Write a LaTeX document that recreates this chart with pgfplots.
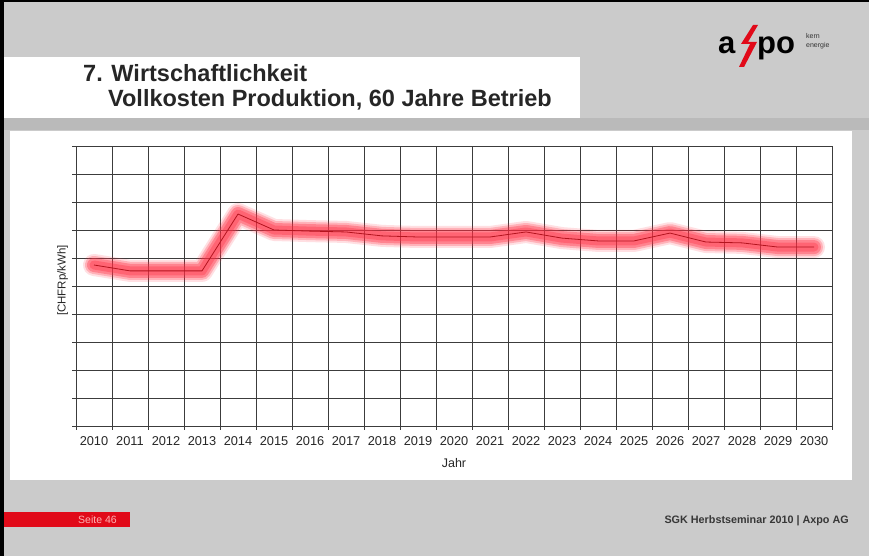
\documentclass[border=0pt]{standalone}
\usepackage{fontspec}
\setmainfont{Liberation Sans}
\usepackage{pgfplots}
\usepackage{pgfplotstable}
\pgfplotsset{compat=1.18}
\definecolor{bg}{RGB}{203,203,203}
\definecolor{band}{RGB}{186,186,186}
\definecolor{gridc}{RGB}{60,60,60}
\definecolor{glow}{RGB}{255,45,65}
\definecolor{lineRed}{RGB}{180,20,30}
\definecolor{axred}{RGB}{225,10,25}
\definecolor{foot}{RGB}{55,55,55}

\pgfplotstableread{
x y
0 5.75
1 5.54
2 5.54
3 5.54
4 7.57
5 7.00
6 6.96
7 6.93
8 6.79
9 6.75
10 6.75
11 6.75
12 6.93
13 6.71
14 6.61
15 6.61
16 6.89
17 6.57
18 6.54
19 6.39
20 6.39
}\costdata

\begin{document}
\begin{tikzpicture}[x=1pt,y=1pt]
% slide background
\fill[bg] (0pt,0pt) rectangle (869pt,556pt);
\fill[band] (4pt,426pt) rectangle (869pt,438pt);
\fill[black] (0pt,0pt) rectangle (4pt,556pt);
\fill[black] (0pt,554pt) rectangle (869pt,556pt);
% title box
\fill[white] (4pt,438pt) rectangle (580pt,499pt);
\node[anchor=base west, font=\bfseries\fontsize{23.5}{26}\selectfont, text=black!85, inner sep=0pt] at (83pt,474pt) {7. Wirtschaftlichkeit};
\node[anchor=base west, font=\bfseries\fontsize{23.5}{26}\selectfont, text=black!85, inner sep=0pt] at (108pt,449pt) {Vollkosten Produktion, 60 Jahre Betrieb};
% logo
\node[anchor=base west, font=\bfseries\fontsize{31}{33}\selectfont, inner sep=0pt] at (718pt,502pt) {a};
\fill[axred] (753pt,531pt) -- (741pt,512pt) -- (750pt,512pt) -- (739pt,489pt) -- (744pt,489pt) -- (757pt,514pt) -- (748pt,514pt) -- (758pt,531pt) -- cycle;
\node[anchor=base west, font=\bfseries\fontsize{31}{33}\selectfont, inner sep=0pt] at (757pt,502pt) {po};
\node[anchor=base west, font=\fontsize{7}{8}\selectfont, inner sep=0pt, text=black!80] at (806pt,517pt) {kern};
\node[anchor=base west, font=\fontsize{7}{8}\selectfont, inner sep=0pt, text=black!80] at (806pt,508pt) {energie};
% chart area
\fill[white] (10pt,76pt) rectangle (852pt,425pt);
% footer
\fill[axred] (4pt,29pt) rectangle (130pt,44pt);
\node[anchor=west, font=\fontsize{10.5}{12}\selectfont, text=red!30, inner sep=0pt] at (78pt,36.5pt) {Seite 46};
\node[anchor=base east, font=\bfseries\fontsize{10.8}{12}\selectfont, text=foot, inner sep=0pt] at (849pt,32pt) {SGK Herbstseminar 2010 | Axpo AG};

\begin{axis}[
  at={(76pt,130pt)}, anchor=south west,
  width=756pt, height=280pt, scale only axis,
  xmin=-0.5, xmax=20.5, ymin=0, ymax=10,
  xtick={0,...,20},
  xticklabels={2010,2011,2012,2013,2014,2015,2016,2017,2018,2019,2020,2021,2022,2023,2024,2025,2026,2027,2028,2029,2030},
  minor xtick={-0.5,0.5,...,20.5},
  ytick={0,...,10}, yticklabels={},
  ymajorgrids, xminorgrids,
  major grid style={gridc, line width=0.9pt},
  minor grid style={gridc, line width=0.9pt},
  axis line style={gridc, line width=0.9pt},
  tick pos=left, tick align=outside,
  major x tick style={draw=none},
  minor x tick style={gridc, line width=0.9pt},
  ytick style={gridc, line width=0.9pt},
  major tick length=4pt, minor tick length=4pt,
  xticklabel style={font=\fontsize{12.8}{14}\selectfont, text=black!85, yshift=-3pt},
  /pgf/number format/assume math mode=true,
  xlabel={Jahr},
  xlabel style={font=\fontsize{12.5}{14}\selectfont, text=black!85, yshift=-6pt},
  ylabel={[CHFRp/kWh]},
  ylabel style={at={(axis description cs:-0.006,0.52)}, anchor=south, font=\fontsize{11.5}{13}\selectfont, text=black!85},
]
\addplot[glow, opacity=0.15, line width=22pt, line join=round, line cap=round] table[x=x,y=y] {\costdata};
\addplot[glow, opacity=0.25, line width=18pt, line join=round, line cap=round] table[x=x,y=y] {\costdata};
\addplot[glow, opacity=0.35, line width=14pt, line join=round, line cap=round] table[x=x,y=y] {\costdata};
\addplot[glow, opacity=0.35, line width=9pt, line join=round, line cap=round] table[x=x,y=y] {\costdata};
\addplot[color=lineRed, line width=0.8pt, line join=round] table[x=x,y=y] {\costdata};
\end{axis}
\end{tikzpicture}
\end{document}
